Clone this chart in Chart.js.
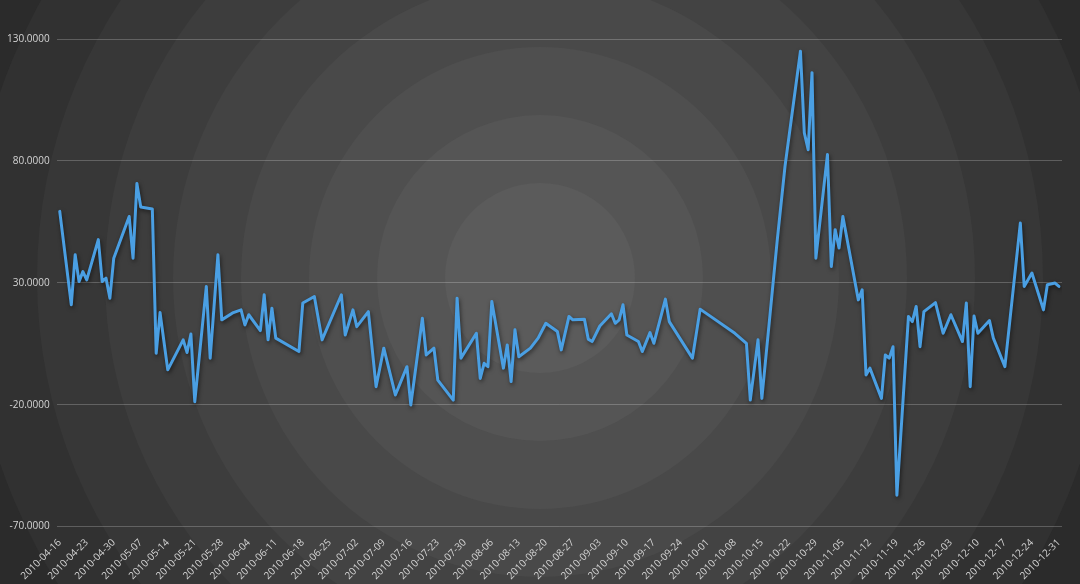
<!DOCTYPE html>
<html>
<head>
<meta charset="utf-8">
<script src="https://cdn.jsdelivr.net/npm/chart.js@4.4.1/dist/chart.umd.min.js"></script>
<style>
    html, body { margin: 0; padding: 0; background: #2b2b2b; }
    #wrap { width: 1080px; height: 584px; position: relative; }
</style>
</head>
<body>
<div id="wrap"><canvas id="chart"></canvas></div>
<script>
// values, one per visible vertex
const dates = [
    '2010-04-16', '2010-04-19', '2010-04-20', '2010-04-21', '2010-04-22', '2010-04-23', '2010-04-26', '2010-04-27',
    '2010-04-28', '2010-04-29', '2010-04-30', '2010-05-04', '2010-05-05', '2010-05-06', '2010-05-07', '2010-05-10',
    '2010-05-11', '2010-05-12', '2010-05-14', '2010-05-18', '2010-05-19', '2010-05-20', '2010-05-21', '2010-05-24',
    '2010-05-25', '2010-05-27', '2010-05-28', '2010-05-31', '2010-06-02', '2010-06-03', '2010-06-04', '2010-06-07',
    '2010-06-08', '2010-06-09', '2010-06-10', '2010-06-11', '2010-06-17', '2010-06-18', '2010-06-21', '2010-06-23',
    '2010-06-28', '2010-06-29', '2010-07-01', '2010-07-02', '2010-07-05', '2010-07-07', '2010-07-09', '2010-07-12',
    '2010-07-15', '2010-07-16', '2010-07-19', '2010-07-20', '2010-07-22', '2010-07-23', '2010-07-27', '2010-07-28',
    '2010-07-29', '2010-08-02', '2010-08-03', '2010-08-04', '2010-08-05', '2010-08-06', '2010-08-09', '2010-08-10',
    '2010-08-11', '2010-08-12', '2010-08-13', '2010-08-16', '2010-08-18', '2010-08-20', '2010-08-23', '2010-08-24',
    '2010-08-26', '2010-08-27', '2010-08-30', '2010-08-31', '2010-09-01', '2010-09-03', '2010-09-06', '2010-09-07',
    '2010-09-08', '2010-09-09', '2010-09-10', '2010-09-13', '2010-09-14', '2010-09-16', '2010-09-17', '2010-09-20',
    '2010-09-21', '2010-09-27', '2010-09-29', '2010-10-08', '2010-10-11', '2010-10-12', '2010-10-14', '2010-10-15',
    '2010-10-19', '2010-10-21', '2010-10-25', '2010-10-26', '2010-10-27', '2010-10-28', '2010-10-29', '2010-11-01',
    '2010-11-02', '2010-11-03', '2010-11-04', '2010-11-05', '2010-11-09', '2010-11-10', '2010-11-11', '2010-11-12',
    '2010-11-15', '2010-11-16', '2010-11-17', '2010-11-18', '2010-11-19', '2010-11-22', '2010-11-23', '2010-11-24',
    '2010-11-25', '2010-11-26', '2010-11-29', '2010-12-01', '2010-12-03', '2010-12-06', '2010-12-07', '2010-12-08',
    '2010-12-09', '2010-12-10', '2010-12-13', '2010-12-14', '2010-12-17', '2010-12-21', '2010-12-22', '2010-12-24',
    '2010-12-27', '2010-12-28', '2010-12-30', '2010-12-31'
];
const values = [
    59.3, 21.0, 41.5, 30.5, 34.6, 31.2, 47.7, 30.5,
    31.9, 23.7, 40.1, 57.2, 40.1, 70.7, 61.1, 60.3,
    1.1, 17.8, -5.7, 6.6, 1.4, 9.0, -18.8, 28.5,
    -0.9, 41.5, 14.8, 17.8, 18.9, 12.7, 16.9, 10.4,
    25.1, 6.6, 19.6, 7.3, 1.8, 21.7, 24.4, 6.6,
    25.1, 8.6, 18.9, 12.0, 18.2, -12.6, 3.2, -16.0,
    -4.4, -20.1, 15.5, 0.4, 3.2, -9.9, -18.1, 23.7,
    -0.9, 9.3, -9.2, -3.0, -4.4, 22.3, -5.0, 4.5,
    -10.5, 10.7, -0.3, 3.2, 7.3, 13.4, 10.0, 2.5,
    16.2, 14.8, 15.1, 6.9, 5.9, 12.3, 17.3, 13.4,
    14.8, 21.0, 8.6, 5.9, 1.8, 9.6, 5.2, 23.3,
    14.1, -0.9, 19.2, 9.3, 5.2, -18.1, 6.6, -17.4,
    47.7, 77.8, 125.0, 91.5, 84.6, 116.2, 40.1, 82.6,
    36.7, 51.8, 44.3, 57.2, 23.0, 27.1, -7.8, -5.0,
    -17.4, 0.4, -0.9, 3.8, -57.1, 16.2, 14.1, 20.3,
    3.8, 18.2, 21.9, 9.3, 16.9, 5.9, 21.7, -12.6,
    16.4, 9.3, 14.5, 7.3, -4.4, 54.5, 28.5, 34.0,
    18.9, 29.2, 29.9, 28.5
];
const tickLabels = [
    '2010-04-16', '2010-04-23', '2010-04-30', '2010-05-07', '2010-05-14', '2010-05-21', '2010-05-28', '2010-06-04',
    '2010-06-11', '2010-06-18', '2010-06-25', '2010-07-02', '2010-07-09', '2010-07-16', '2010-07-23', '2010-07-30',
    '2010-08-06', '2010-08-13', '2010-08-20', '2010-08-27', '2010-09-03', '2010-09-10', '2010-09-17', '2010-09-24',
    '2010-10-01', '2010-10-08', '2010-10-15', '2010-10-22', '2010-10-29', '2010-11-05', '2010-11-12', '2010-11-19',
    '2010-11-26', '2010-12-03', '2010-12-10', '2010-12-17', '2010-12-24', '2010-12-31'
];
const yMin = -70, yMax = 130, yStep = 50;

const DAY = 86400000;
function toDay(s) {
    const [y, m, d] = s.split('-').map(Number);
    return (Date.UTC(y, m - 1, d) - Date.UTC(2010, 3, 16)) / DAY;
}
function toLabel(day) {
    const dt = new Date(Date.UTC(2010, 3, 16) + day * DAY);
    return dt.toISOString().slice(0, 10);
}

const points = dates.map((d, i) => ({ x: toDay(d), y: values[i] }));
const tickDays = tickLabels.map(toDay);

// stepped radial rings behind everything
const ringBg = {
    id: 'ringBg',
    beforeDraw(chart) {
        const { ctx, width, height } = chart;
        const cx = width / 2, cy = 278;
        const rings = ['#5b5b5b', '#555555', '#4f4f4f', '#494949', '#434343', '#3d3d3d', '#373737', '#313131', '#2b2b2b', '#272727'];
        const step = 68;
        ctx.save();
        ctx.fillStyle = rings[rings.length - 1];
        ctx.fillRect(0, 0, width, height);
        for (let i = rings.length - 2; i >= 0; i--) {
            ctx.beginPath();
            ctx.arc(cx, cy, 95 + step * i, 0, Math.PI * 2);
            ctx.fillStyle = rings[i];
            ctx.fill();
        }
        ctx.restore();
    }
};

const lineShadow = {
    id: 'lineShadow',
    beforeDatasetDraw(chart) {
        const ctx = chart.ctx;
        ctx.save();
        ctx.shadowColor = 'rgba(0,0,0,0.55)';
        ctx.shadowBlur = 4;
        ctx.shadowOffsetX = 1;
        ctx.shadowOffsetY = 2;
    },
    afterDatasetDraw(chart) {
        chart.ctx.restore();
    }
};

const labelFont = { family: "'Open Sans', sans-serif", size: 10 };

new Chart(document.getElementById('chart').getContext('2d'), {
    type: 'line',
    data: {
        datasets: [{
            data: points,
            borderColor: '#4a9fe3',
            borderWidth: 3,
            borderJoinStyle: 'round',
            borderCapStyle: 'round',
            pointRadius: 0,
            tension: 0,
            fill: false,
        }],
    },
    options: {
        responsive: true,
        maintainAspectRatio: false,
        animation: false,
        layout: { padding: { left: 0, right: 18, top: 39, bottom: 0 } },
        plugins: {
            legend: { display: false },
            tooltip: { enabled: false },
        },
        scales: {
            x: {
                type: 'linear',
                min: -0.8,
                max: 259.8,
                afterBuildTicks: axis => { axis.ticks = tickDays.map(v => ({ value: v })); },
                ticks: {
                    autoSkip: false,
                    minRotation: 45,
                    maxRotation: 45,
                    color: '#d4d4d4',
                    font: labelFont,
                    padding: 2,
                    callback: v => toLabel(v),
                },
                grid: { display: false },
                border: { display: false },
            },
            y: {
                min: yMin,
                max: yMax,
                ticks: {
                    stepSize: yStep,
                    color: '#d4d4d4',
                    font: labelFont,
                    padding: 7,
                    callback: v => v.toFixed(4),
                },
                grid: { color: 'rgba(255,255,255,0.22)', lineWidth: 1, drawTicks: false },
                border: { display: false },
            },
        },
    },
    plugins: [ringBg, lineShadow],
});
</script>
</body>
</html>
